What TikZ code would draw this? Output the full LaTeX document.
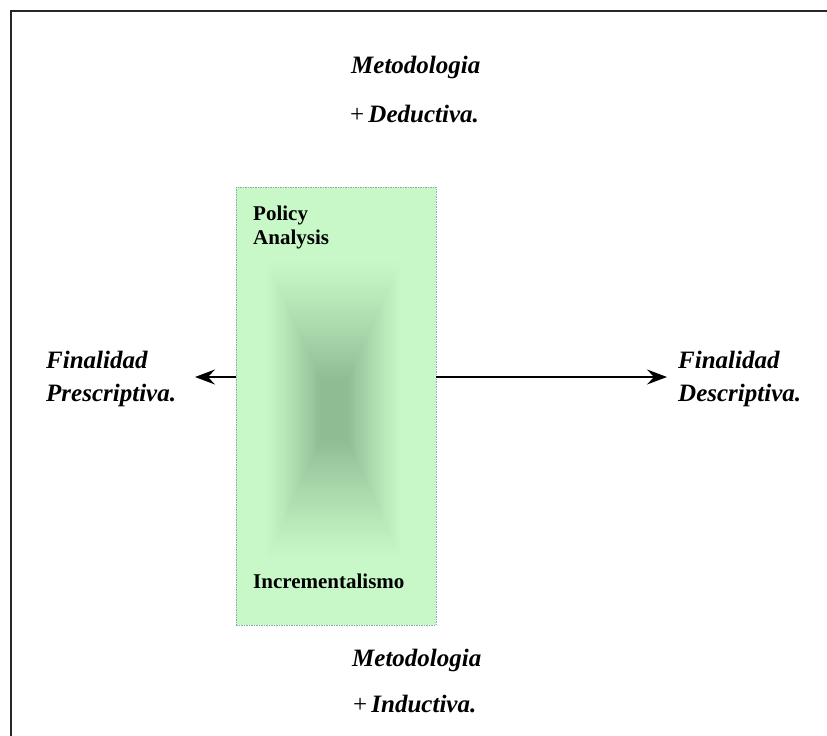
\documentclass[tikz,border=0pt]{standalone}
\usepackage{fontspec}
\setmainfont{Liberation Serif}
\usetikzlibrary{arrows.meta}

\definecolor{boxfill}{RGB}{200,248,200}
\definecolor{boxcore}{RGB}{143,188,146}
\definecolor{boxedge}{RGB}{140,172,172}

\tikzset{
  label/.style={anchor=base west, inner sep=0pt, font=\fontsize{25}{33}\selectfont\bfseries\itshape},
  inlabel/.style={anchor=base west, inner sep=0pt, font=\fontsize{21}{24}\selectfont\bfseries},
  arr/.style={line width=1.3pt, -{Stealth[length=20pt, width=15pt, inset=7pt]}},
  panel/.style={draw=boxedge, dashed, dash pattern=on 1.5pt off 1pt, line width=0.8pt,
    fill=boxfill, minimum width=200pt, minimum height=438pt, inner sep=0pt}
}

\begin{document}
\begin{tikzpicture}[x=1pt, y=-1pt]
  \useasboundingbox (0,0) rectangle (827,736);
  \fill[white] (0,0) rectangle (827,736);

  % outer frame (only its top and left sides fall on the page)
  \draw[line width=2pt, black!85] (11,760) |- (850,11);

  % central panel
  \node[panel] (box) at (336,406) {};

  % rectangular gradient: nested rectangles closing in on a small dark core
  \foreach \i in {0,...,60}{
    \pgfmathsetmacro{\t}{\i/60}
    \pgfmathsetmacro{\p}{100*\t^1.15}
    \pgfmathsetmacro{\hw}{69-56*\t}
    \pgfmathsetmacro{\hh}{151-121*\t}
    \fill[boxcore!\p!boxfill] (334-\hw,410-\hh) rectangle (334+\hw,410+\hh);
  }

  % texts inside the panel
  \node[inlabel] (pol) at (253,220) {Policy};
  \node[inlabel] (ana) at (253,244) {Analysis};
  \node[inlabel] (inc) at (253,588) {Incrementalismo};

  % top and bottom labels
  \node[label] (mt1) at (351,73) {Metodologia};
  \node[label] (ded) at (350,122) {\upshape\mdseries+\,\itshape\bfseries Deductiva.};
  \node[label] (mt2) at (352,666) {Metodologia};
  \node[label] (ind) at (353,712) {\upshape\mdseries+\,\itshape\bfseries Inductiva.};

  % side labels
  \node[label] (fl) at (46,368) {Finalidad};
  \node[label] (pre) at (46,401) {Prescriptiva.};
  \node[label] (fr) at (678,368) {Finalidad};
  \node[label] (des) at (678,401) {Descriptiva.};

  % arrows from the panel to both sides
  \coordinate (tipL) at (195,377);
  \coordinate (tipR) at (667,377);
  \draw[arr] (box.west |- tipL) -- (tipL);
  \draw[arr] (box.east |- tipR) -- (tipR);
\end{tikzpicture}
\end{document}
